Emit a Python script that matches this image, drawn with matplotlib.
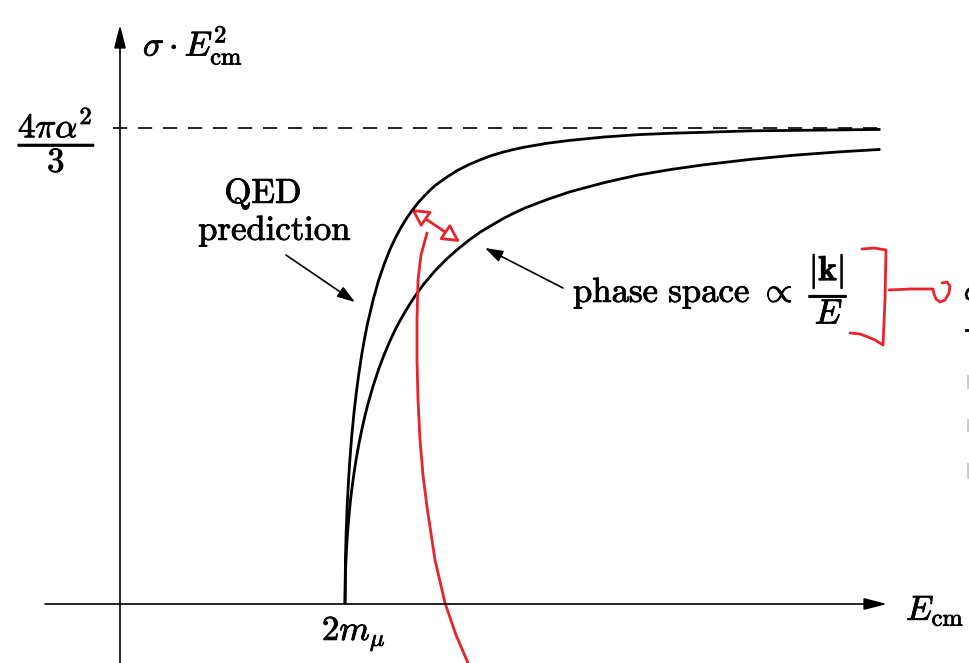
import matplotlib
matplotlib.use("Agg")
import matplotlib.pyplot as plt
import matplotlib.patheffects as pe
from matplotlib.patches import FancyArrowPatch

plt.rcParams['mathtext.fontset'] = 'cm'

# E_cm in units of 2 m_mu, cross section in units of 4 pi alpha^2 / 3
e_cm = [1.0, 1.002, 1.005, 1.01, 1.015, 1.02, 1.025, 1.03, 1.04, 1.05, 1.06, 1.075,
        1.0875, 1.1, 1.125, 1.15, 1.175, 1.2, 1.225, 1.25, 1.275, 1.3, 1.325, 1.35,
        1.375, 1.4, 1.45, 1.5, 1.55, 1.6, 1.65, 1.7, 1.75, 1.8, 1.9, 2.0, 2.15, 2.3,
        2.45, 2.6, 2.8, 3.0, 3.2, 3.38]
qed = [0.0, 0.095, 0.149, 0.209, 0.254, 0.292, 0.324, 0.353, 0.402, 0.443, 0.479,
       0.526, 0.559, 0.589, 0.639, 0.681, 0.715, 0.745, 0.770, 0.792, 0.811, 0.828,
       0.843, 0.856, 0.868, 0.879, 0.896, 0.911, 0.923, 0.933, 0.942, 0.949, 0.955,
       0.960, 0.968, 0.974, 0.981, 0.986, 0.989, 0.991, 0.994, 0.995, 0.996, 0.997]
phase = [0.0, 0.063, 0.100, 0.140, 0.171, 0.197, 0.220, 0.240, 0.275, 0.305, 0.332,
         0.367, 0.393, 0.417, 0.458, 0.494, 0.525, 0.553, 0.578, 0.600, 0.620, 0.639,
         0.656, 0.672, 0.686, 0.700, 0.724, 0.745, 0.764, 0.781, 0.795, 0.809, 0.821,
         0.832, 0.850, 0.866, 0.885, 0.901, 0.913, 0.923, 0.934, 0.943, 0.950, 0.955]
plateau = 1.0

W, H = 970, 663
X0, Y0, SX, SY = 120, 604, 225, 476   # pixel position of origin and unit sizes


def P(x, y):
    # pixel position in the image -> data coords
    return ((x - X0) / SX, (Y0 - y) / SY)


fig = plt.figure(figsize=(W / 100, H / 100), dpi=100)
ax = fig.add_axes([0, 0, 1, 1])
ax.set_xlim(P(0, 0)[0], P(W, 0)[0])
ax.set_ylim(P(0, H)[1], P(0, 0)[1])
ax.axis('off')

k = 'black'
red = '#e8232b'
bold = [pe.withStroke(linewidth=0.6, foreground=k)]

# axes with arrows
head = '-|>,head_length=0.7,head_width=0.18'
ax.annotate('', xy=P(887, 604), xytext=P(45, 604),
            arrowprops=dict(arrowstyle=head, lw=1.2, color=k, mutation_scale=20,
                            shrinkA=0, shrinkB=0))
ax.annotate('', xy=P(120, 25), xytext=P(120, 663),
            arrowprops=dict(arrowstyle=head, lw=1.2, color=k, mutation_scale=20,
                            shrinkA=0, shrinkB=0))

# asymptote
ax.plot([P(113, 0)[0], P(880, 0)[0]], [plateau, plateau], color=k, lw=1.2,
        dashes=(8.5, 6.5))

# curves
ax.plot(e_cm, qed, color=k, lw=2.0, solid_capstyle='butt', solid_joinstyle='round')
ax.plot(e_cm, phase, color=k, lw=2.0, solid_capstyle='butt', solid_joinstyle='round')

fs = 25
labels = [
    ((57, 128), r'$\dfrac{4\pi\alpha^2}{3}$', 'center', 'center_baseline'),
    ((143, 45), r'$\sigma\cdot E_{\mathrm{cm}}^2$', 'left', 'center'),
    ((263, 203), r'$\mathrm{QED}$', 'center', 'baseline'),
    ((275, 240), r'$\mathrm{prediction}$', 'center', 'baseline'),
    ((573, 302), r'$\mathrm{phase\ space}\ \propto\ \dfrac{|\mathbf{k}|}{E}$', 'left', 'baseline'),
    ((322, 640), r'$2m_\mu$', 'left', 'baseline'),
    ((906, 620), r'$E_{\mathrm{cm}}$', 'left', 'baseline'),
]
for pos, s, ha, va in labels:
    ax.text(*P(*pos), s, fontsize=fs, ha=ha, va=va, path_effects=bold)

small = dict(arrowstyle='-|>,head_length=0.6,head_width=0.2', lw=1.2, color=k,
             mutation_scale=18, shrinkA=0, shrinkB=0)
ax.annotate('', xy=P(355, 302), xytext=P(286, 255), arrowprops=small)
ax.annotate('', xy=P(485, 248), xytext=P(563, 288), arrowprops=small)

# red hand-drawn markup
arr = FancyArrowPatch(P(411, 209), P(460, 242),
                      arrowstyle='<|-|>,head_length=0.75,head_width=0.4',
                      mutation_scale=14, lw=2.0, ec=red, fc='white',
                      shrinkA=0, shrinkB=0)
ax.add_patch(arr)

stroke = [(427, 233), (421, 255), (418, 280), (417, 320), (417, 360), (418, 400),
          (420, 440), (423, 475), (427, 507), (435, 560), (445, 603), (456, 635),
          (468, 663)]
bracket = [(862, 249), (874, 248), (886, 250), (885, 300), (883, 345), (875, 340),
           (868, 337), (860, 334), (850, 333)]
tail = [(889, 290), (910, 289), (933, 289), (934, 294), (936, 299), (940, 302),
        (945, 300), (949, 293), (950, 286), (947, 282), (942, 283)]
for pts in (stroke, bracket, tail):
    xs, ys = zip(*[P(x, y) for x, y in pts])
    ax.plot(xs, ys, color=red, lw=2.0, solid_joinstyle='round',
            solid_capstyle='round')

# fragments of text cut off at the right edge
edge_bits = [
    ([(971, 288), (968, 290), (966, 294), (967, 298), (971, 300)], k, 2.0),
    ([(966, 330), (971, 330)], k, 2.0),
    ([(968, 376), (968, 387)], '#c8c8c8', 2.0),
    ([(968, 420), (968, 430)], '#c8c8c8', 2.0),
    ([(968, 464), (968, 477)], '#c8c8c8', 2.0),
]
for pts, c, w in edge_bits:
    xs, ys = zip(*[P(x, y) for x, y in pts])
    ax.plot(xs, ys, color=c, lw=w, clip_on=False)

fig.savefig('out.png', dpi=100)
